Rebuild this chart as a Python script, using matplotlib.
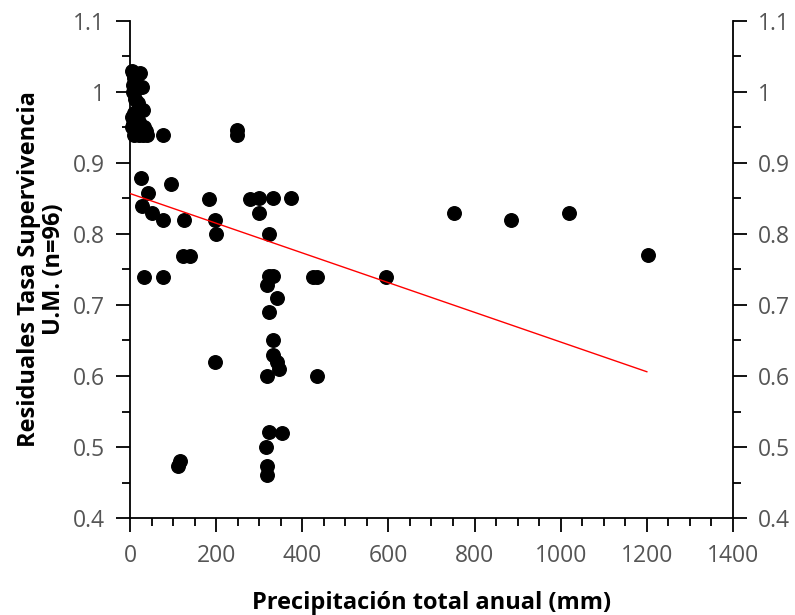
import numpy as np
import matplotlib.pyplot as plt
from matplotlib.ticker import MultipleLocator

plt.rcParams['font.family'] = ['Open Sans', 'DejaVu Sans']

# precipitación (mm) y residuales
precip = [5, 8, 10, 12, 6, 15, 20, 23, 28, 8, 12, 18, 30, 10, 5, 14, 22, 8,
          5, 12, 18, 25, 32, 38, 10, 20, 30, 40, 77, 248, 248,
          25, 95, 41, 28, 51, 77, 125, 183, 197, 200, 123, 139, 32, 77,
          112, 115, 278, 300, 333, 374, 300, 323, 323, 333, 318, 341, 323,
          425, 434, 594, 333, 333, 341, 346, 318, 434, 197,
          323, 353, 316, 318, 318, 752, 885, 1019, 1203]
resid = [1.03, 1.027, 1.02, 1.017, 1.01, 1.007, 1.007, 1.027, 1.007, 1.0, 0.99, 0.985, 0.975, 0.97, 0.965, 0.96, 0.958, 0.955,
         0.95, 0.95, 0.95, 0.945, 0.95, 0.945, 0.94, 0.94, 0.94, 0.94, 0.94, 0.947, 0.94,
         0.879, 0.87, 0.858, 0.84, 0.83, 0.82, 0.82, 0.849, 0.82, 0.80, 0.769, 0.769, 0.74, 0.74,
         0.473, 0.48, 0.849, 0.85, 0.85, 0.85, 0.83, 0.80, 0.741, 0.741, 0.728, 0.71, 0.69,
         0.74, 0.74, 0.74, 0.65, 0.63, 0.62, 0.61, 0.60, 0.60, 0.62,
         0.521, 0.52, 0.50, 0.473, 0.46, 0.83, 0.82, 0.83, 0.77]

# recta de regresión
fit_x = [0, 1200]
fit_y = [0.857, 0.606]

fig = plt.figure(figsize=(7.95, 6.15), dpi=100)
ax = fig.add_axes([0.1635, 0.1577, 0.7585, 0.8082])

ax.scatter(precip, resid, s=95, color='black', zorder=3, clip_on=False)
ax.plot(fit_x, fit_y, color='red', lw=1, zorder=4)

ax.set_xlim(0, 1400)
ax.set_ylim(0.4, 1.1)
ax.xaxis.set_major_locator(MultipleLocator(200))
ax.xaxis.set_minor_locator(MultipleLocator(50))
ax.yaxis.set_minor_locator(MultipleLocator(0.05))
ax.set_yticks(np.arange(0.4, 1.11, 0.1))
ax.set_yticklabels(['0.4', '0.5', '0.6', '0.7', '0.8', '0.9', '1', '1.1'])

ax.spines['top'].set_visible(False)
for s in ['left', 'right', 'bottom']:
    ax.spines[s].set_linewidth(1.3)

ax.tick_params(which='both', direction='out', right=True, labelright=True,
               width=1.3, colors='black', labelcolor='#555555', labelsize=16.5)
ax.tick_params(which='major', length=10)
ax.tick_params(which='minor', length=6)
ax.tick_params(axis='x', which='major', pad=9)
ax.tick_params(axis='y', which='major', pad=8)

ax.set_xlabel('Precipitación total anual (mm)', fontsize=17, fontweight='bold', labelpad=16)
ax.set_ylabel('Residuales Tasa Supervivencia\nU.M. (n=96)', fontsize=17, fontweight='bold',
              labelpad=5, linespacing=1.05)

fig.savefig('out.png', dpi=100)
